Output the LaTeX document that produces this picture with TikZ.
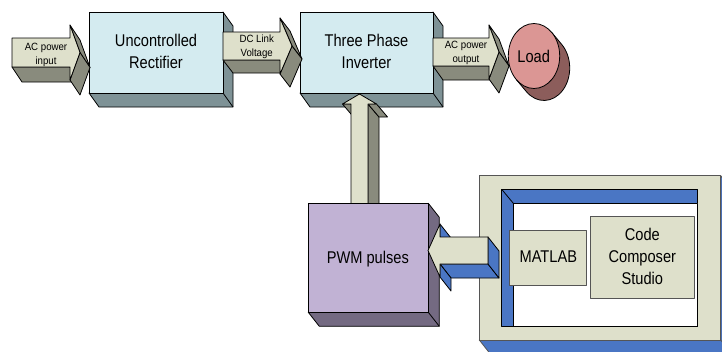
\documentclass[tikz,border=0pt]{standalone}
\usepackage{fontspec}
\setmainfont{Liberation Sans}
\usepackage{graphicx}
\definecolor{boxf}{HTML}{D4EBF0}
\definecolor{boxs}{HTML}{7E9296}
\definecolor{arrf}{HTML}{DEE0CB}
\definecolor{arrs}{HTML}{898B7D}
\definecolor{loadf}{HTML}{DB9694}
\definecolor{loads}{HTML}{8C5D5B}
\definecolor{pwmf}{HTML}{C1B2D4}
\definecolor{pwms}{HTML}{746A82}
\definecolor{blu}{HTML}{4A76C4}
\definecolor{edgegray}{HTML}{555555}
\newcommand\bigt[1]{\scalebox{0.86}[1]{\begin{tabular}{@{}c@{}}#1\end{tabular}}}
\newcommand\smallt[1]{\scalebox{0.92}[1]{\begin{tabular}{@{}c@{}}#1\end{tabular}}}
% 3D box: x1 y1 x2 y2 dx dy front side
\newcommand\threebox[8]{%
  \filldraw[fill=#8] (#3,#2) -- ++(#5,#6) -- ([shift={(#5,#6)}]#3,#4) -- ([shift={(#5,#6)}]#1,#4) -- (#1,#4) -- (#3,#4) -- cycle;
  \draw (#3,#4) -- ++(#5,#6);
  \filldraw[fill=#7] (#1,#2) rectangle (#3,#4);
}
\tikzset{
  bigtext/.style={font=\fontsize{17}{22}\selectfont, inner sep=0pt, text=black},
  smalltext/.style={font=\fontsize{10.5}{14}\selectfont, inner sep=0pt, text=black},
}
\begin{document}
\begin{tikzpicture}[x=1pt,y=-1pt,line width=0.8pt,line join=round]
\useasboundingbox (0,0) rectangle (722,351);
\fill[white] (0,0) rectangle (722,351);
\clip (0,0) rectangle (722,351);

% Rectifier
\threebox{89}{12}{223}{93}{10}{14}{boxf}{boxs}
% AC power input arrow
\filldraw[fill=arrs] (12,67) -- (70,67) -- (80,82) -- (22,82) -- cycle;
\filldraw[fill=arrs] (70,25) -- (80,52.5) -- (90,67.5) -- (80,40) -- cycle;
\filldraw[fill=arrs] (70,80) -- (80,52.5) -- (90,67.5) -- (80,95) -- cycle;
\filldraw[fill=arrf] (12,38) -- (70,38) -- (70,25) -- (80,52.5) -- (70,80) -- (70,67) -- (12,67) -- cycle;

% Inverter
\threebox{300}{12}{433}{93}{10}{14}{boxf}{boxs}
% DC link arrow
\filldraw[fill=arrs] (223,60) -- (280,60) -- (290,73) -- (233,73) -- cycle;
\filldraw[fill=arrs] (280,18) -- (292,46) -- (302,59) -- (290,31) -- cycle;
\filldraw[fill=arrs] (280,74) -- (292,46) -- (302,59) -- (290,87) -- cycle;
\filldraw[fill=arrf] (223,32) -- (280,32) -- (280,18) -- (292,46) -- (280,74) -- (280,60) -- (223,60) -- cycle;

% AC power output arrow
\filldraw[fill=arrs] (433,66) -- (489,66) -- (499,80) -- (443,80) -- cycle;
\filldraw[fill=arrs] (489,25) -- (499,52) -- (509,66) -- (499,39) -- cycle;
\filldraw[fill=arrs] (489,79) -- (499,52) -- (509,66) -- (499,93) -- cycle;
\filldraw[fill=arrf] (433,38) -- (489,38) -- (489,25) -- (499,52) -- (489,79) -- (489,66) -- (433,66) -- cycle;

% Load
\filldraw[fill=loads] (551.7,32.4) -- (561.7,44.4) arc[start angle=-46.5, end angle=133.5, x radius=25.7, y radius=32.5] -- (516.3,79.6) -- cycle;
\filldraw[fill=loadf] (534,56) ellipse [x radius=25.7, y radius=32.5];

% Up arrow PWM -> inverter
\filldraw[fill=arrs] (368,104) -- (368,215) -- (379,228) -- (379,117) -- cycle;
\filldraw[fill=arrs] (368,104) -- (376.5,104) -- (387.5,117) -- (379,117) -- cycle;
\filldraw[fill=arrs] (342.5,104) -- (351,104) -- (362,117) -- (353.5,117) -- cycle;
\filldraw[fill=arrf] (351,215) -- (351,104) -- (342.5,104) -- (359.5,94) -- (376.5,104) -- (368,104) -- (368,215) -- cycle;

% PWM box
\threebox{308.3}{203.3}{428.3}{312.3}{11}{14}{pwmf}{pwms}

% Computer frame
\begin{scope}[draw=edgegray]
\threebox{479.3}{175.7}{720.7}{340}{11}{14}{arrf}{blu}
\end{scope}
\filldraw[fill=blu] (501.7,189.3) rectangle (697.7,326);
\filldraw[fill=white] (513.3,203.3) rectangle (697.7,326);
\draw (501.7,189.3) -- (513.3,203.3);
\filldraw[fill=arrf, draw=edgegray] (509.3,230) rectangle (586.7,285);
\filldraw[fill=arrf, draw=edgegray] (590.7,216) rectangle (694,298.3);

% Blue arrow computer -> PWM
\filldraw[fill=blu] (440,264) -- (488,264) -- (499,278) -- (451,278) -- cycle;
\filldraw[fill=blu] (488,237) -- (499,251) -- (499,278) -- (488,264) -- cycle;
\filldraw[fill=blu] (440,224) -- (440,237) -- (451,251) -- (451,238) -- cycle;
\filldraw[fill=blu] (440,264) -- (440,277) -- (451,291) -- (451,278) -- cycle;
\filldraw[fill=arrf] (488,237) -- (440,237) -- (440,224) -- (428,250.5) -- (440,277) -- (440,264) -- (488,264) -- cycle;

% Texts
\node[bigtext] (trect) at (156,53.5) {\bigt{Uncontrolled\\Rectifier}};
\node[bigtext] (tinv) at (366.5,53.4) {\bigt{Three Phase\\Inverter}};
\node[bigtext] (tload) at (533.7,58.4) {\bigt{Load}};
\node[bigtext] (tpwm) at (367.8,259) {\bigt{PWM pulses}};
\node[bigtext] (tmat) at (548.3,258.4) {\bigt{MATLAB}};
\node[bigtext] (tccs) at (642.3,258) {\bigt{Code\\Composer\\Studio}};
\node[smalltext] (tacin) at (46,54.6) {\smallt{AC power\\input}};
\node[smalltext] (tdc) at (256.7,46.3) {\smallt{DC Link\\Voltage}};
\node[smalltext] (tacout) at (466,52.8) {\smallt{AC power\\output}};
\end{tikzpicture}
\end{document}
